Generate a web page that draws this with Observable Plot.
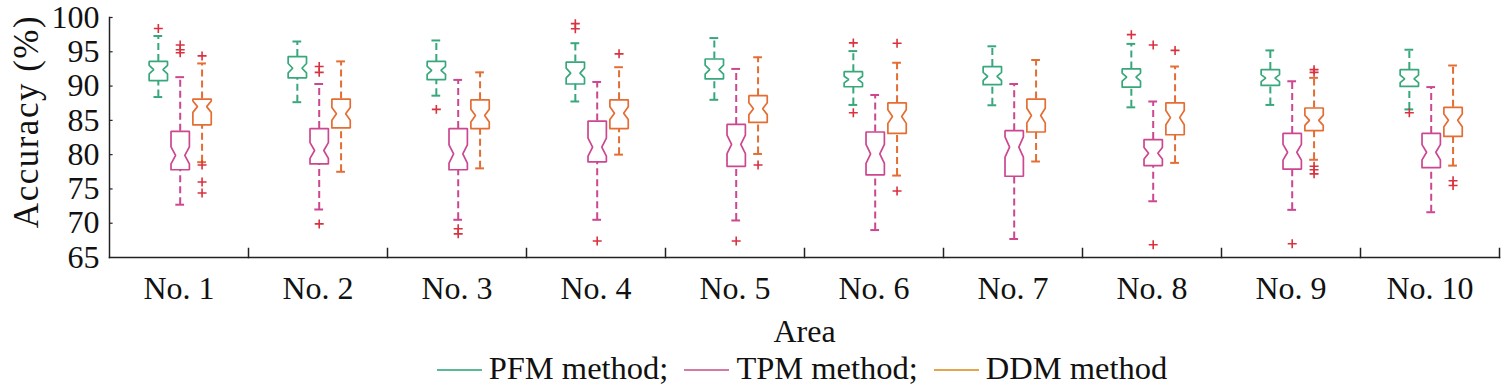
<!DOCTYPE html>
<html>
<head>
<meta charset="utf-8">
<script src="https://cdn.jsdelivr.net/npm/d3@7"></script>
<script src="https://cdn.jsdelivr.net/npm/@observablehq/plot@0.6"></script>
<style>
  body { margin: 0; background: #fff; }
  #legend { display: flex; justify-content: center; align-items: center; height: 42px; padding-left: 101px; box-sizing: border-box; width: 1503px;
    position: relative; top: -3px;
    font-family: "Liberation Serif", Tinos, "Times New Roman", "DejaVu Serif", serif; font-size: 32.5px; color: #111; }
  #legend .item { display: flex; align-items: center; margin: 0 8px; }
  #legend .swatch { width: 45px; height: 2px; margin-right: 7px; margin-top: 4px; }
  #chart svg, #chart svg text { font-family: "Liberation Serif", Tinos, "Times New Roman", "DejaVu Serif", serif !important; }
</style>
</head>
<body>
<div id="chart"></div>
<div id="legend"></div>
<script>
const areas = ["No. 1", "No. 2", "No. 3", "No. 4", "No. 5", "No. 6", "No. 7", "No. 8", "No. 9", "No. 10"];
const methods = ["PFM method", "TPM method", "DDM method"];
const legendLabels = ["PFM method;", "TPM method;", "DDM method"];
const yTicks = [65, 70, 75, 80, 85, 90, 95, 100];

// each row: [lower whisker, Q1, median, Q3, upper whisker]
const pfmStats = [
  [88.4, 90.8, 92.4, 93.6, 97.3],
  [87.65, 91.2, 92.6, 94.3, 96.5],
  [88.6, 90.95, 92.3, 93.6, 96.65],
  [87.75, 90.3, 91.9, 93.5, 96.25],
  [88.0, 91.05, 92.4, 93.95, 97.0],
  [87.25, 89.9, 90.95, 92.1, 95.1],
  [87.2, 90.2, 91.4, 92.85, 95.8],
  [86.9, 89.85, 91.3, 92.5, 96.15],
  [87.25, 90.1, 91.15, 92.4, 95.2],
  [86.6, 89.95, 91.05, 92.4, 95.3]
];
const tpmStats = [
  [72.7, 77.8, 79.9, 83.4, 91.3],
  [72.0, 78.65, 80.6, 83.8, 90.3],
  [70.5, 77.8, 80.1, 83.8, 90.9],
  [70.5, 78.95, 81.1, 84.9, 90.6],
  [70.4, 78.3, 81.5, 84.4, 92.5],
  [69.0, 77.05, 80.1, 83.3, 88.7],
  [67.7, 76.85, 81.1, 83.5, 90.3],
  [73.2, 78.4, 80.2, 82.2, 87.75],
  [71.95, 77.9, 80.35, 83.1, 90.7],
  [71.6, 78.1, 80.35, 83.1, 89.85]
];
const ddmStats = [
  [78.9, 84.35, 87.0, 88.1, 93.3],
  [77.5, 83.9, 85.95, 88.1, 93.6],
  [78.0, 83.8, 85.7, 88.0, 92.0],
  [80.0, 83.8, 86.05, 88.0, 92.75],
  [80.1, 84.7, 86.7, 88.6, 94.2],
  [76.95, 83.1, 85.55, 87.55, 93.4],
  [79.0, 83.3, 85.7, 88.1, 93.8],
  [78.8, 82.9, 85.4, 87.55, 92.85],
  [79.25, 83.5, 85.0, 86.8, 91.2],
  [78.4, 82.65, 85.0, 86.9, 93.0]
];
const pfmOutliers = [[98.4], [], [86.6], [98.35, 99.1], [], [96.3, 86.1], [], [97.5], [], [86.1]];
const tpmOutliers = [[94.85, 95.3, 96.0], [92.0, 92.85, 69.9], [69.2, 68.45], [67.4], [67.4], [], [], [96.0, 66.85], [67.0], []];
const ddmOutliers = [[94.4, 78.5, 76.0, 74.4], [], [], [94.7], [78.5], [96.25, 74.7], [], [95.2], [92.0, 92.4, 78.3, 77.8, 77.2], [76.2, 75.5]];
const sampleSize = 50; // observations per box (for notch width)

const boxColors = ["#38a87c", "#cc4690", "#e46d33"];
const legendColors = ["#5bb995", "#d47aa5", "#e3a64f"];
const outlierColor = "#d8323f";

const allStats = [pfmStats, tpmStats, ddmStats];
const allOutliers = [pfmOutliers, tpmOutliers, ddmOutliers];

// Build tidy tables
const boxes = [];
const outliers = [];
areas.forEach((area, i) => {
  methods.forEach((method, j) => {
    const [lo, q1, med, q3, hi] = allStats[j][i];
    const notch = 1.57 * (q3 - q1) / Math.sqrt(sampleSize);
    boxes.push({area, method, j, lo, q1, med, q3, hi, notch});
    allOutliers[j][i].forEach(v => outliers.push({area, method, j, value: v}));
  });
});

const HW = 0.42, NW = 0.21, CW = 0.2;
// notched box outlines
const outline = [];
boxes.forEach(b => {
  const c = b.j + 0.5;
  const pts = [
    [c - HW, b.q1], [c - HW, b.med - b.notch], [c - NW, b.med], [c - HW, b.med + b.notch], [c - HW, b.q3],
    [c + HW, b.q3], [c + HW, b.med + b.notch], [c + NW, b.med], [c + HW, b.med - b.notch], [c + HW, b.q1], [c - HW, b.q1]
  ];
  pts.forEach(([x, y]) => outline.push({area: b.area, method: b.method, key: b.area + "|" + b.method, x, y}));
});

const color = {domain: methods, range: boxColors};
const facetWidth = (1503 - 107 - 2) / areas.length;
const serif = "'Liberation Serif', Tinos, 'Times New Roman', 'DejaVu Serif', serif";

const chart = Plot.plot({
  width: 1503,
  height: 350,
  marginTop: 17,
  marginBottom: 93,
  marginLeft: 107,
  marginRight: 2,
  style: {fontFamily: serif, fontSize: "32px", color: "#111", background: "#fff"},
  fx: {domain: areas, padding: 0},
  x: {domain: [0, 3], insetLeft: 37.9, insetRight: 35.5, axis: null},
  y: {domain: [65, 100]},
  color,
  marks: [
    Plot.frame({anchor: "left", facet: "super", stroke: "#222", strokeWidth: 1.5}),
    Plot.frame({anchor: "bottom", facet: "super", stroke: "#222", strokeWidth: 1.5}),
    Plot.frame({anchor: "right", insetTop: 231, stroke: "#222", strokeWidth: 1.5}),
    Plot.ruleY(yTicks.slice(1), {y: d => d, facetAnchor: "left", insetRight: facetWidth - 4, stroke: "#222", strokeWidth: 1.2}),
    Plot.axisY({ticks: yTicks, tickSize: 0, tickPadding: 10, label: null, fontFamily: serif, fontSize: 32}),
    Plot.axisFx({anchor: "bottom", tickSize: 0, tickPadding: 19, label: "Area", labelAnchor: "center", labelOffset: 84, fontFamily: serif, fontSize: 32}),
    Plot.text(["Accuracy (%)"], {facet: "super", frameAnchor: "left", textAnchor: "middle", rotate: -90, dx: -83, dy: -16, fontSize: 35, fontFamily: serif, text: d => d, fill: "#111"}),
    // whiskers
    Plot.ruleX(boxes, {fx: "area", x: d => d.j + 0.5, y1: "q3", y2: "hi", stroke: "method", strokeWidth: 2, strokeDasharray: "7,4"}),
    Plot.ruleX(boxes, {fx: "area", x: d => d.j + 0.5, y1: "lo", y2: "q1", stroke: "method", strokeWidth: 2, strokeDasharray: "7,4"}),
    // caps
    Plot.ruleY(boxes, {fx: "area", y: "hi", x1: d => d.j + 0.5 - CW, x2: d => d.j + 0.5 + CW, stroke: "method", strokeWidth: 2}),
    Plot.ruleY(boxes, {fx: "area", y: "lo", x1: d => d.j + 0.5 - CW, x2: d => d.j + 0.5 + CW, stroke: "method", strokeWidth: 2}),
    // notched boxes
    Plot.line(outline, {fx: "area", x: "x", y: "y", z: "key", stroke: "method", strokeWidth: 1.7, strokeLinejoin: "miter"}),
    // outliers
    Plot.dot(outliers, {fx: "area", x: d => d.j + 0.5, y: "value", symbol: "plus", r: 3, stroke: outlierColor, strokeWidth: 1.6})
  ]
});
document.getElementById("chart").appendChild(chart);
// widen the rotated y label slightly, as in the reference typesetting
d3.select(chart).selectAll("text").filter(function() { return this.textContent === "Accuracy (%)"; })
  .style("letter-spacing", "1.5px");

// legend
const legend = d3.select("#legend");
legendLabels.forEach((label, j) => {
  const item = legend.append("div").attr("class", "item");
  item.append("div").attr("class", "swatch").style("background", legendColors[j]);
  item.append("span").text(label);
});
</script>
</body>
</html>
